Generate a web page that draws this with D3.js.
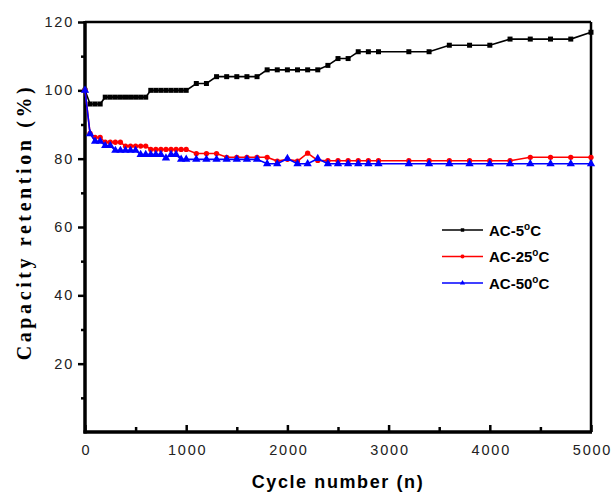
<!DOCTYPE html>
<html>
<head>
<meta charset="utf-8">
<script src="https://cdn.jsdelivr.net/npm/d3@7"></script>
<style>
  body { margin: 0; background: #fff; }
  .tick text { font-family: Arial, "Liberation Sans", sans-serif; font-size: 14.5px; fill: #222; letter-spacing: 1.8px; }
</style>
</head>
<body>
<div id="chart"></div>
<script>
// cycle numbers shared by the three curves
const cycles = [0, 50, 100, 150, 200, 250, 300, 350, 400, 450, 500, 550, 600, 650, 700, 750, 800, 850, 900, 950, 1000,
  1100, 1200, 1300, 1400, 1500, 1600, 1700, 1800, 1900, 2000, 2100, 2200, 2300, 2400, 2500, 2600, 2700, 2800, 2900,
  3200, 3400, 3600, 3800, 4000, 4200, 4400, 4600, 4800, 5000];

const ac5 = [100, 96, 96, 96, 98, 98, 98, 98, 98, 98, 98, 98, 98, 100, 100, 100, 100, 100, 100, 100, 100,
  102, 102, 104, 104, 104, 104, 104, 106, 106, 106, 106, 106, 106, 107.3, 109.3, 109.3, 111.3, 111.3, 111.3,
  111.3, 111.3, 113.2, 113.2, 113.2, 115, 115, 115, 115, 117];

const ac25 = [100, 87.4, 86.2, 86.2, 84.8, 84.8, 84.8, 84.8, 83.7, 83.7, 83.7, 83.7, 83.7, 82.7, 82.7, 82.7, 82.7, 82.7, 82.7, 82.7, 82.7,
  81.5, 81.5, 81.5, 80.4, 80.4, 80.4, 80.4, 80.4, 79.3, 79.8, 79.3, 81.6, 79.5, 79.4, 79.4, 79.4, 79.4, 79.4, 79.4,
  79.4, 79.4, 79.4, 79.4, 79.4, 79.4, 80.4, 80.4, 80.4, 80.4];

const ac50 = [100, 87.3, 85.1, 85.1, 83.8, 83.8, 82.4, 82.4, 82.4, 82.4, 82.4, 81.2, 81.2, 81.2, 81.2, 81.2, 80.2, 81.2, 81.2, 79.8, 79.8,
  79.8, 79.8, 79.8, 79.8, 79.8, 79.8, 79.8, 78.5, 78.5, 80, 78.5, 78.5, 80, 78.5, 78.5, 78.5, 78.5, 78.5, 78.5,
  78.5, 78.5, 78.5, 78.5, 78.5, 78.5, 78.5, 78.5, 78.5, 78.5];

const seriesNames = ["AC-5", "AC-25", "AC-50"];
const seriesColors = ["#000000", "#ff0000", "#0000ff"];
const seriesSymbols = [d3.symbolSquare, d3.symbolCircle, d3.symbolTriangle];

const xTicks = [0, 1000, 2000, 3000, 4000, 5000];
const yTicks = [20, 40, 60, 80, 100, 120];

const w = 613, h = 495;
const margin = { top: 22, right: 22, bottom: 63, left: 85 };

const svg = d3.select("#chart").append("svg")
  .attr("width", w)
  .attr("height", h);

const x = d3.scaleLinear().domain([0, 5000]).range([margin.left, w - margin.right]);
const y = d3.scaleLinear().domain([0, 120]).range([h - margin.bottom, margin.top]);

// minor ticks
svg.append("g")
  .attr("transform", `translate(0,${h - margin.bottom})`)
  .call(d3.axisTop(x).tickValues([500, 1500, 2500, 3500, 4500]).tickSize(5).tickFormat(""))
  .call(g => g.select(".domain").remove())
  .call(g => g.selectAll("line").attr("stroke-width", 2.5));

svg.append("g")
  .attr("transform", `translate(${margin.left},0)`)
  .call(d3.axisLeft(y).tickValues([10, 30, 50, 70, 90, 110]).tickSize(4).tickFormat(""))
  .call(g => g.select(".domain").remove())
  .call(g => g.selectAll("line").attr("stroke-width", 2.5));

// x axis, ticks pointing inside
const xAxis = svg.append("g")
  .attr("transform", `translate(0,${h - margin.bottom})`)
  .call(d3.axisBottom(x).tickValues(xTicks).tickFormat(d3.format("d"))
    .tickSizeInner(-7).tickSizeOuter(0).tickPadding(13));
xAxis.select(".domain").remove();
xAxis.selectAll("line").attr("stroke-width", 2.5);
xAxis.selectAll("text").attr("dx", "1px");

// y axis, ticks outside
const yAxis = svg.append("g")
  .attr("transform", `translate(${margin.left},0)`)
  .call(d3.axisLeft(y).tickValues(yTicks).tickSizeInner(7).tickSizeOuter(0).tickPadding(4));
yAxis.select(".domain").remove();
yAxis.selectAll("line").attr("stroke-width", 2.5);

// frame
const x0 = x(0), x1 = x(5000), y0 = y(0), y1 = y(120);
svg.append("line").attr("x1", x0).attr("x2", x1).attr("y1", y1).attr("y2", y1)
  .attr("stroke", "#000").attr("stroke-width", 2.5);
svg.append("line").attr("x1", x1).attr("x2", x1).attr("y1", y1).attr("y2", y0)
  .attr("stroke", "#000").attr("stroke-width", 2.5);
svg.append("line").attr("x1", x0).attr("x2", x0).attr("y1", y1 - 1).attr("y2", y0 + 1.5)
  .attr("stroke", "#000").attr("stroke-width", 3.5);
svg.append("line").attr("x1", x0 - 1.5).attr("x2", x1 + 1).attr("y1", y0).attr("y2", y0)
  .attr("stroke", "#000").attr("stroke-width", 3.5);

// curves
const allSeries = [ac5, ac25, ac50];
const line = d3.line().x(d => x(d[0])).y(d => y(d[1]));
const symbolSizes = [25, 22, 30];

// draw black first, then red, then blue on top
allSeries.forEach((vals, i) => {
  const pts = cycles.map((c, k) => [c, vals[k]]);
  svg.append("path")
    .datum(pts)
    .attr("fill", "none")
    .attr("stroke", seriesColors[i])
    .attr("stroke-width", 1.6)
    .attr("d", line);
  svg.append("g")
    .selectAll("path")
    .data(pts)
    .enter()
    .append("path")
    .attr("transform", d => `translate(${x(d[0])},${y(d[1])})`)
    .attr("d", d3.symbol().type(seriesSymbols[i]).size(symbolSizes[i]))
    .attr("fill", seriesColors[i]);
});

// legend
const legend = svg.append("g").attr("transform", "translate(442,230)");
seriesNames.forEach((name, i) => {
  const gy = i * 26.5;
  legend.append("line")
    .attr("x1", 0).attr("x2", 41).attr("y1", gy).attr("y2", gy)
    .attr("stroke", seriesColors[i]).attr("stroke-width", 1.6);
  legend.append("path")
    .attr("transform", `translate(20.5,${gy})`)
    .attr("d", d3.symbol().type(seriesSymbols[i]).size(12))
    .attr("fill", seriesColors[i]);
  const t = legend.append("text")
    .attr("x", 47).attr("y", gy + 5.5)
    .style("font-family", "Arial, 'Liberation Sans', sans-serif")
    .style("font-size", "15px")
    .style("font-weight", "bold");
  t.append("tspan").text(name);
  t.append("tspan").attr("dy", -6).style("font-size", "10px").text("o");
  t.append("tspan").attr("dy", 6).text("C");
});

// axis titles
svg.append("text")
  .attr("x", (x0 + x1) / 2)
  .attr("y", 488)
  .attr("text-anchor", "middle")
  .style("font-family", "Arial, 'Liberation Sans', sans-serif")
  .style("font-size", "18px")
  .style("font-weight", "bold")
  .style("letter-spacing", "1.6px")
  .text("Cycle number (n)");

svg.append("text")
  .attr("transform", `translate(31,${(y0 + y1) / 2 - 5}) rotate(-90)`)
  .attr("text-anchor", "middle")
  .style("font-family", "'Liberation Serif', 'DejaVu Serif', serif")
  .style("font-size", "20px")
  .style("font-weight", "bold")
  .style("letter-spacing", "3.6px")
  .text("Capacity retention (%)");
</script>
</body>
</html>
